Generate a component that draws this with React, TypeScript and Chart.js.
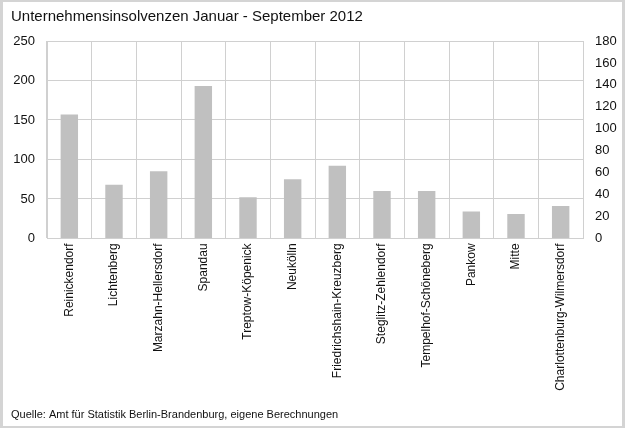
import React, { useEffect, useRef } from "react";
import { Chart, registerables } from "chart.js";

Chart.register(...registerables);

const categories = [
  "Reinickendorf",
  "Lichtenberg",
  "Marzahn-Hellersdorf",
  "Spandau",
  "Treptow-Köpenick",
  "Neukölln",
  "Friedrichshain-Kreuzberg",
  "Steglitz-Zehlendorf",
  "Tempelhof-Schöneberg",
  "Pankow",
  "Mitte",
  "Charlottenburg-Wilmersdorf",
];

const insolvencies = [157, 68, 85, 193, 52, 75, 92, 60, 60, 34, 31, 41];

const leftTicks = [0, 50, 100, 150, 200, 250];
const rightTicks = [0, 20, 40, 60, 80, 100, 120, 140, 160, 180];

const titleText = "Unternehmensinsolvenzen Januar - September 2012";
const sourceText = "Quelle: Amt für Statistik Berlin-Brandenburg, eigene Berechnungen";

export default function App() {
  const canvasRef = useRef<HTMLCanvasElement | null>(null);

  useEffect(() => {
    if (!canvasRef.current) return;
    const font = "'Liberation Sans', Arial, sans-serif";
    const chart = new Chart(canvasRef.current, {
      type: "bar",
      data: {
        labels: categories,
        datasets: [
          {
            data: insolvencies,
            backgroundColor: "#c0c0c0",
            borderWidth: 0,
            barPercentage: 0.39,
            categoryPercentage: 1,
            yAxisID: "y",
          },
        ],
      },
      options: {
        animation: false,
        responsive: true,
        maintainAspectRatio: false,
        layout: { padding: { left: 8, right: 5, top: 0, bottom: 2 } },
        plugins: {
          legend: { display: false },
          tooltip: { enabled: false },
          title: {
            display: true,
            text: titleText,
            align: "start",
            color: "#111",
            font: { family: font, size: 15, weight: "normal" },
            padding: { top: 6, bottom: 15 },
          },
          subtitle: {
            display: true,
            text: sourceText,
            position: "bottom",
            align: "start",
            color: "#111",
            font: { family: font, size: 11, weight: "normal" },
            padding: { top: 13, bottom: 2 },
          },
        },
        scales: {
          x: {
            type: "category",
            grid: { color: "#d0d0d0", offset: true, drawTicks: false, lineWidth: 1 },
            border: { color: "#d0d0d0" },
            ticks: {
              color: "#111",
              font: { family: font, size: 12 },
              minRotation: 90,
              maxRotation: 90,
              autoSkip: false,
              padding: 5,
            },
          },
          y: {
            type: "linear",
            position: "left",
            min: leftTicks[0],
            max: leftTicks[leftTicks.length - 1],
            afterBuildTicks: (axis: any) => {
              axis.ticks = leftTicks.map((v) => ({ value: v }));
            },
            afterFit: (axis: any) => {
              axis.width = 36;
            },
            grid: { color: "#d0d0d0", drawTicks: false },
            border: { color: "#d0d0d0" },
            ticks: {
              color: "#111",
              font: { family: font, size: 13 },
              padding: 12,
            },
          },
          y2: {
            type: "linear",
            position: "right",
            min: rightTicks[0],
            max: rightTicks[rightTicks.length - 1],
            afterBuildTicks: (axis: any) => {
              axis.ticks = rightTicks.map((v) => ({ value: v }));
            },
            afterFit: (axis: any) => {
              axis.width = 34;
            },
            grid: { drawOnChartArea: false, drawTicks: false },
            border: { color: "#d0d0d0" },
            ticks: {
              color: "#111",
              font: { family: font, size: 13 },
              padding: 12,
            },
          },
        },
      },
    });
    return () => chart.destroy();
  }, []);

  return (
    <div
      style={{
        position: "fixed",
        left: 0,
        top: 0,
        width: 625,
        height: 428,
        boxSizing: "border-box",
        borderLeft: "3px solid #d4d4d4",
        borderTop: "2px solid #d4d4d4",
        borderRight: "3px solid #d4d4d4",
        borderBottom: "2px solid #d4d4d4",
        background: "#fff",
      }}
    >
      <canvas ref={canvasRef} />
    </div>
  );
}
